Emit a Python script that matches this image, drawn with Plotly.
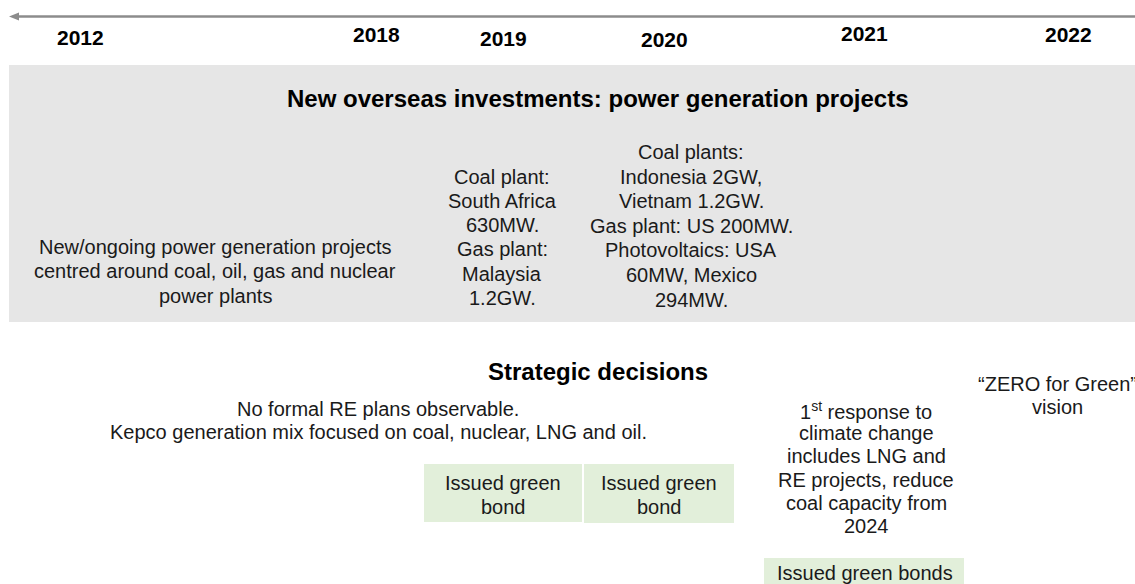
import plotly.graph_objects as go

W, H = 1135, 584

# ---- content ----
years = ["2012", "2018", "2019", "2020", "2021", "2022"]
year_x = [80, 376, 503, 664, 864, 1068]
year_y = [37, 34, 38, 39, 33, 34]

band_title = "New overseas investments: power generation projects"
proj_left = ["New/ongoing power generation projects",
             "centred around coal, oil, gas and nuclear",
             "power plants"]
proj_2019 = ["Coal plant:", "South Africa", "630MW.", "Gas plant:", "Malaysia", "1.2GW."]
proj_2020 = ["Coal plants:", "Indonesia 2GW,", "Vietnam 1.2GW.", "Gas plant: US 200MW.",
             "Photovoltaics: USA", "60MW, Mexico", "294MW."]

strat_title = "Strategic decisions"
strat_left = ["No formal RE plans observable.",
              "Kepco generation mix focused on coal, nuclear, LNG and oil."]
strat_2021 = ["1<sup>st</sup> response to", "climate change", "includes LNG and",
              "RE projects, reduce", "coal capacity from", "2024"]
strat_2022 = ["\u201cZERO for Green\u201d", "vision"]
bond_boxes = [["Issued green", "bond"], ["Issued green", "bond"], ["Issued green bonds"]]

FONT = "Liberation Sans, Arial, sans-serif"
TXT = "#1a1a1a"

fig = go.Figure()
shapes = []
ann = []

# grey band
shapes.append(dict(type="rect", x0=9, x1=1140, y0=65, y1=322,
                   fillcolor="#e6e6e6", line=dict(width=0), layer="below"))
# green boxes
box_geo = [(424, 582, 464, 522), (584, 734, 464, 523), (764, 964, 558, 600)]
for (x0, x1, y0, y1) in box_geo:
    shapes.append(dict(type="rect", x0=x0, x1=x1, y0=y0, y1=y1,
                       fillcolor="#e2efda", line=dict(width=0), layer="below"))

# timeline arrow (pointing left)
shapes.append(dict(type="line", x0=16, x1=1140, y0=16.5, y1=16.5,
                   line=dict(color="#8c8c8c", width=2.5)))
shapes.append(dict(type="path", path="M 9 16.5 L 19 12.5 L 19 20.5 Z",
                   fillcolor="#8c8c8c", line=dict(width=0)))

for yr, x, y in zip(years, year_x, year_y):
    ann.append(dict(x=x, y=y, text="<b>%s</b>" % yr, showarrow=False,
                    font=dict(size=21, family=FONT, color="#000")))

ann.append(dict(x=598, y=98, text="<b>%s</b>" % band_title, showarrow=False,
                font=dict(size=24, family=FONT, color="#000")))
ann.append(dict(x=598, y=371, text="<b>%s</b>" % strat_title, showarrow=False,
                font=dict(size=24, family=FONT, color="#000")))


def block(lines, cx, y0, dy, size=20):
    for i, t in enumerate(lines):
        ann.append(dict(x=cx, y=y0 + i * dy, text=t, showarrow=False,
                        font=dict(size=size, family=FONT, color=TXT)))


block(proj_left, 215, 247, 24.4)
block(proj_2019, 502, 176.5, 24.3)
block(proj_2020, 691, 152, 24.6)
block(strat_left, 378, 409, 23)
block(strat_2021, 866, 410, 23.2)
block(strat_2022, 1057, 384, 23)

box_cx = [503, 659, 865]
box_y0 = [483, 483, 573]
for lines, cx, y0 in zip(bond_boxes, box_cx, box_y0):
    block(lines, cx, y0, 23.5)

fig.update_layout(
    width=W, height=H, margin=dict(l=0, r=0, t=0, b=0),
    paper_bgcolor="white", plot_bgcolor="white",
    xaxis=dict(range=[0, W], visible=False, fixedrange=True),
    yaxis=dict(range=[H, 0], visible=False, fixedrange=True),
    shapes=shapes, annotations=ann, showlegend=False,
)
fig.write_html(
    "out.html",
    config={"displayModeBar": False},
    post_script="document.body.style.margin='0';document.body.style.overflow='hidden';",
)
